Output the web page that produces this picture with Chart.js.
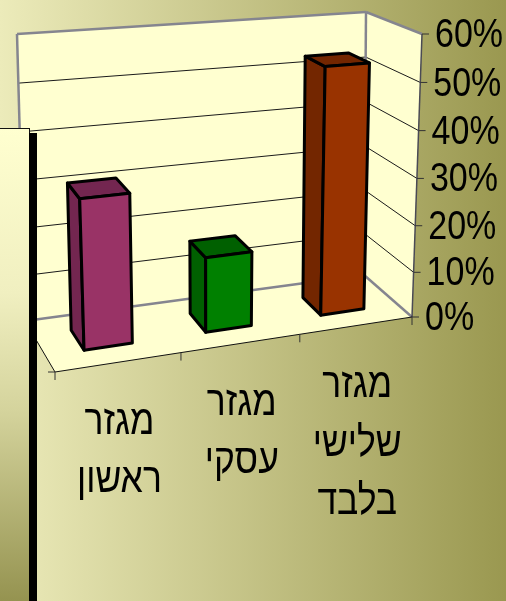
<!DOCTYPE html>
<html>
<head>
<meta charset="utf-8">
<style>
html, body { margin: 0; padding: 0; background: #fff; }
canvas { display: block; }
</style>
<script src="https://cdn.jsdelivr.net/npm/chart.js@4"></script>
</head>
<body>
<canvas id="myChart" width="506" height="601"></canvas>
<script>
// chart data
let categories = [['מגזר', 'ראשון'], ['מגזר', 'עסקי'], ['מגזר', 'שלישי', 'בלבד']];
let shares = [31, 16, 53];
let tickValues = [0, 10, 20, 30, 40, 50, 60];

let frontColors = ['#993366', '#008000', '#993300'];
let shadeColors = ['#732650', '#006000', '#732600'];

// corners of the 3d box: floor and ceiling, front-left, front-right, back-right, back-left
let floorQuad = [[55, 372], [412, 317], [364, 275], [25, 321]];
let ceilingQuad = [[42, 64], [422, 34], [366, 12], [17, 34]];

let wallColor = '#ffffd0';
let edgeColor = '#85858f';
let textFont = '"Liberation Sans", Arial, sans-serif';
let textStretch = 1.18;
let heightBend = 1.03;
let floorBow = 0.04;
let ceilingBow = 0.09;

function makeHomography(q) {
    let [x0, y0] = q[0], [x1, y1] = q[1], [x2, y2] = q[2], [x3, y3] = q[3];
    let sx = x0 - x1 + x2 - x3, sy = y0 - y1 + y2 - y3;
    let dx1 = x1 - x2, dx2 = x3 - x2, dy1 = y1 - y2, dy2 = y3 - y2;
    let den = dx1 * dy2 - dx2 * dy1;
    let g = (sx * dy2 - dx2 * sy) / den;
    let h = (dx1 * sy - sx * dy1) / den;
    let a = x1 - x0 + g * x1, b = x3 - x0 + h * x3;
    let d = y1 - y0 + g * y1, e = y3 - y0 + h * y3;
    return (u, v) => {
        let w = g * u + h * v + 1;
        return [(a * u + b * v + x0) / w, (d * u + e * v + y0) / w];
    };
}

let floorMap = makeHomography(floorQuad);
let ceilingMap = makeHomography(ceilingQuad);

// u: left to right, v: front to back, t: floor to ceiling (all 0..1)
function project(u, v, t) {
    let p = floorMap(u - floorBow * u * (1 - u), v);
    let q = ceilingMap(u - ceilingBow * u * (1 - u), v);
    let k = Math.pow(t, heightBend);
    return [p[0] + (q[0] - p[0]) * k, p[1] + (q[1] - p[1]) * k];
}

function polygon(ctx, points, fill, stroke, lineWidth) {
    ctx.beginPath();
    points.forEach((p, i) => i ? ctx.lineTo(p[0], p[1]) : ctx.moveTo(p[0], p[1]));
    ctx.closePath();
    if (fill) {
        ctx.fillStyle = fill;
        ctx.fill();
    }
    if (stroke) {
        ctx.strokeStyle = stroke;
        ctx.lineWidth = lineWidth;
        ctx.lineJoin = 'round';
        ctx.stroke();
    }
}

function line(ctx, a, b, color, width) {
    ctx.beginPath();
    ctx.moveTo(a[0], a[1]);
    ctx.lineTo(b[0], b[1]);
    ctx.strokeStyle = color;
    ctx.lineWidth = width;
    ctx.stroke();
}

// tall narrow glyphs, centre or left aligned at x
function stretchedText(ctx, text, x, y, size, align) {
    ctx.save();
    ctx.translate(x, y);
    ctx.scale(1, textStretch);
    ctx.font = size + 'px ' + textFont;
    ctx.textAlign = align;
    ctx.textBaseline = 'middle';
    ctx.fillStyle = '#000';
    ctx.fillText(text, 0, 0);
    ctx.restore();
}

function drawBackground(ctx, w, h) {
    let grad = ctx.createLinearGradient(0, 0, w, 0);
    grad.addColorStop(0, '#ecebba');
    grad.addColorStop(1, '#9a9850');
    ctx.fillStyle = grad;
    ctx.fillRect(0, 0, w, h);
}

function scaleFraction(chart, value) {
    let ya = chart.scales.y;
    return (ya.bottom - ya.getPixelForValue(value)) / (ya.bottom - ya.top);
}

function drawBox(ctx, chart) {
    let ya = chart.scales.y;
    polygon(ctx, [project(0, 1, 0), project(1, 1, 0), project(1, 1, 1), project(0, 1, 1)], wallColor);
    polygon(ctx, [project(1, 0, 0), project(1, 1, 0), project(1, 1, 1), project(1, 0, 1)], wallColor);
    polygon(ctx, floorQuad, wallColor);

    // gridlines run along the back wall and the right wall
    ya.ticks.forEach(tick => {
        let t = scaleFraction(chart, tick.value);
        if (t <= 0 || t >= 1) return;
        line(ctx, project(0, 1, t), project(1, 1, t), '#1a1a1a', 1);
        line(ctx, project(1, 1, t), project(1, 0, t), '#1a1a1a', 1);
    });

    line(ctx, project(0, 1, 0), project(0, 1, 1), edgeColor, 2.5);
    line(ctx, project(0, 1, 1), project(1, 1, 1), edgeColor, 2.5);
    line(ctx, project(1, 1, 1), project(1, 0, 1), edgeColor, 2.5);
    line(ctx, project(1, 1, 1), project(1, 1, 0), edgeColor, 2.5);
    line(ctx, project(0, 1, 0), project(1, 1, 0), edgeColor, 2.5);
    line(ctx, project(1, 1, 0), project(1, 0, 0), edgeColor, 2.5);
    line(ctx, project(1, 0, 0), project(1, 0, 1), '#4a4a55', 1.5);
    line(ctx, project(0, 0, 0), project(1, 0, 0), '#111', 1);
    line(ctx, project(0, 0, 0), project(0, 1, 0), '#111', 1);
}

function drawBars(ctx, chart) {
    let meta = chart.getDatasetMeta(0);
    let area = chart.chartArea;
    meta.data.forEach((bar, i) => {
        let u0 = (bar.x - bar.width / 2 - area.left) / area.width;
        let u1 = (bar.x + bar.width / 2 - area.left) / area.width;
        let t = (area.bottom - bar.y) / area.height;
        let v0 = 0.3, v1 = 0.7;
        let fill = bar.options.backgroundColor;
        let shade = shadeColors[i];
        polygon(ctx, [project(u0, v0, 0), project(u0, v1, 0), project(u0, v1, t), project(u0, v0, t)], shade, '#000', 3);
        polygon(ctx, [project(u0, v0, t), project(u0, v1, t), project(u1, v1, t), project(u1, v0, t)], shade, '#000', 3);
        polygon(ctx, [project(u0, v0, 0), project(u1, v0, 0), project(u1, v0, t), project(u0, v0, t)], fill, '#000', 3);
    });
}

function drawTicksAndLabels(ctx, chart) {
    let xa = chart.scales.x, ya = chart.scales.y;
    ya.ticks.forEach(tick => {
        let t = scaleFraction(chart, tick.value);
        let p = project(1, 0, t);
        line(ctx, p, [p[0] + 7, p[1]], '#333', 1);
        stretchedText(ctx, tick.label, p[0] + 13, p[1] + 2, 34, 'left');
    });

    let n = xa.getLabels().length;
    for (let i = 0; i <= n; i++) {
        let p = project(i / n, 0, 0);
        line(ctx, p, [p[0], p[1] + 8], '#333', 1);
    }
    let corner = project(0, 0, 0);
    line(ctx, corner, [corner[0] - 7, corner[1]], '#333', 1);

    xa.getLabels().forEach((lines, i) => {
        let u = (xa.getPixelForValue(i) - xa.left) / xa.width;
        let p = project(u, 0, 0);
        lines.forEach((text, k) => {
            stretchedText(ctx, text, p[0] + 0.5, p[1] + 60 + k * 58.5, 35.5, 'center');
        });
    });
}

// pale panel with its heavy black edge down the left side
function drawSidePanel(ctx, h) {
    let grad = ctx.createLinearGradient(0, 128, 0, h);
    grad.addColorStop(0, '#ffffd0');
    grad.addColorStop(0.35, '#f0efc0');
    grad.addColorStop(0.6, '#d4d39c');
    grad.addColorStop(1, '#959350');
    ctx.fillStyle = grad;
    ctx.fillRect(0, 128, 29.5, h - 128);
    line(ctx, [0, 128.5], [30, 128.5], '#111', 1);
    line(ctx, [29.5, 128], [29.5, 134], '#111', 1);
    ctx.fillStyle = '#000';
    ctx.fillRect(29, 133, 8, h - 133);
}

let scenePlugin = {
    id: 'scene',
    beforeDraw(chart) {
        drawBackground(chart.ctx, chart.width, chart.height);
    },
    beforeDatasetsDraw(chart) {
        let ctx = chart.ctx;
        drawBox(ctx, chart);
        drawBars(ctx, chart);
        drawTicksAndLabels(ctx, chart);
        drawSidePanel(ctx, chart.height);
        return false;
    }
};

new Chart(document.getElementById('myChart'), {
    type: 'bar',
    data: {
        labels: categories,
        datasets: [{
            data: shares,
            backgroundColor: frontColors,
            barPercentage: 0.39,
            categoryPercentage: 1
        }]
    },
    options: {
        responsive: false,
        animation: false,
        events: [],
        layout: { padding: { left: 40, right: 40, top: 40, bottom: 40 } },
        plugins: { legend: { display: false }, tooltip: { enabled: false } },
        scales: {
            x: {
                grid: { display: false },
                border: { display: false },
                ticks: { display: false }
            },
            y: {
                min: 0,
                max: tickValues[tickValues.length - 1],
                grid: { display: false },
                border: { display: false },
                ticks: {
                    display: false,
                    stepSize: tickValues[1] - tickValues[0],
                    callback: v => v + '%'
                }
            }
        }
    },
    plugins: [scenePlugin]
});
</script>
</body>
</html>
